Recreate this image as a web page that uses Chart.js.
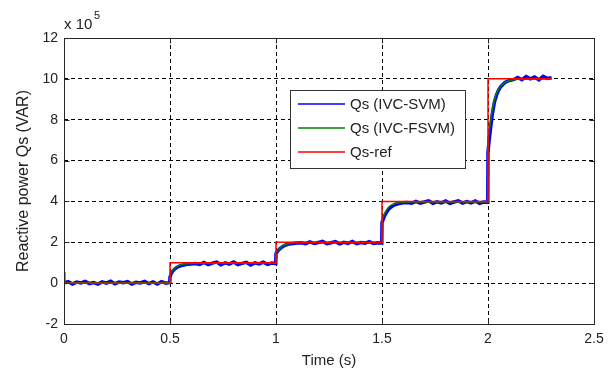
<!DOCTYPE html>
<html>
<head>
<meta charset="utf-8">
<script src="https://cdn.jsdelivr.net/npm/chart.js@4/dist/chart.umd.min.js"></script>
<style>
  body { margin: 0; background: #fff; }
  canvas { display: block; }
</style>
</head>
<body>
<canvas id="qsChart" width="613" height="369"></canvas>
<script>
// values in units of 1e5 VAR
const refT = [0, 0.5, 0.5, 1, 1, 1.5, 1.5, 2, 2, 2.3];
const refQ = [0, 0, 1, 1, 2, 2, 4, 4, 10, 10];

const svmT = [
  0, 0.02, 0.04, 0.06, 0.08, 0.10, 0.12, 0.14, 0.16, 0.18, 0.20, 0.22, 0.24, 0.26, 0.28, 0.30, 0.32, 0.34, 0.36, 0.38, 0.40, 0.42, 0.44, 0.46, 0.48, 0.499,
  0.5, 0.505, 0.51, 0.52, 0.53, 0.54, 0.55, 0.56, 0.58, 0.60, 0.62, 0.64, 0.66, 0.68, 0.70, 0.72, 0.74, 0.76, 0.78, 0.80, 0.82, 0.84, 0.86, 0.88, 0.90, 0.92, 0.94, 0.96, 0.98, 0.999,
  1.0, 1.005, 1.01, 1.02, 1.03, 1.04, 1.05, 1.06, 1.08, 1.10, 1.12, 1.14, 1.16, 1.18, 1.20, 1.22, 1.24, 1.26, 1.28, 1.30, 1.32, 1.34, 1.36, 1.38, 1.40, 1.42, 1.44, 1.46, 1.48, 1.499,
  1.5, 1.505, 1.51, 1.52, 1.53, 1.54, 1.55, 1.56, 1.58, 1.60, 1.62, 1.64, 1.66, 1.68, 1.70, 1.72, 1.74, 1.76, 1.78, 1.80, 1.82, 1.84, 1.86, 1.88, 1.90, 1.92, 1.94, 1.96, 1.98, 1.999,
  2.0, 2.005, 2.01, 2.02, 2.03, 2.04, 2.05, 2.06, 2.08, 2.10, 2.12, 2.14, 2.16, 2.18, 2.20, 2.22, 2.24, 2.26, 2.28, 2.30
];
const svmQ = [
  0.02, 0.07, -0.04, 0.05, 0.01, 0.08, -0.02, 0.03, -0.05, 0.06, 0.0, 0.09, -0.03, 0.05, 0.02, 0.07, -0.04, 0.04, 0.01, 0.08, -0.02, 0.06, -0.04, 0.07, 0.0, 0.03,
  0.3, 0.45, 0.55, 0.67, 0.75, 0.81, 0.85, 0.88, 0.92, 0.94, 0.96, 0.92, 1.01, 0.91, 0.98, 1.03, 0.9, 0.99, 0.93, 1.04, 0.91, 0.97, 1.02, 0.89, 0.99, 0.94, 1.03, 0.92, 0.98, 0.96,
  1.45, 1.52, 1.6, 1.7, 1.78, 1.84, 1.88, 1.91, 1.94, 1.96, 1.98, 1.93, 2.02, 1.94, 1.99, 2.04, 1.93, 1.98, 2.03, 1.92, 2.0, 1.95, 2.04, 1.93, 1.99, 1.96, 2.03, 1.94, 1.98, 1.97,
  2.98, 3.1, 3.25, 3.45, 3.6, 3.7, 3.78, 3.84, 3.9, 3.93, 3.95, 3.91, 4.0, 3.92, 3.97, 4.03, 3.91, 3.98, 3.93, 4.02, 3.91, 3.97, 4.03, 3.92, 3.99, 3.93, 4.02, 3.91, 3.97, 3.96,
  6.4, 6.95, 7.4, 8.25, 8.85, 9.2, 9.45, 9.62, 9.82, 9.92, 9.96, 10.07, 9.96, 10.11, 10.0, 10.09, 9.95, 10.12, 10.02, 10.06
];

const fsvmT = [
  0, 0.004, 0.499,
  0.5, 0.51, 0.52, 0.53, 0.54, 0.56, 0.58, 0.62, 0.999,
  1.0, 1.01, 1.02, 1.03, 1.04, 1.06, 1.08, 1.12, 1.499,
  1.5, 1.51, 1.52, 1.53, 1.54, 1.56, 1.58, 1.62, 1.999,
  2.0, 2.01, 2.02, 2.03, 2.04, 2.05, 2.06, 2.08, 2.10, 2.14, 2.30
];
const fsvmQ = [
  0.55, 0.02, 0.02,
  0.42, 0.6, 0.72, 0.8, 0.86, 0.92, 0.95, 0.97, 0.97,
  1.5, 1.62, 1.73, 1.81, 1.87, 1.93, 1.96, 1.98, 1.98,
  3.1, 3.35, 3.55, 3.7, 3.8, 3.9, 3.95, 3.97, 3.97,
  7.0, 7.8, 8.5, 8.95, 9.3, 9.5, 9.65, 9.83, 9.92, 9.98, 10.0
];

const xTicks = [0, 0.5, 1, 1.5, 2, 2.5];
const yTicks = [-2, 0, 2, 4, 6, 8, 10, 12];

const seriesLabels = ['Qs (IVC-SVM)', 'Qs (IVC-FSVM)', 'Qs-ref'];
const seriesColors = ['#0000ff', '#008000', '#ff0000'];

const toXY = (ts, qs) => ts.map((t, i) => ({x: t, y: qs[i]}));
const font = 'Arial, "Liberation Sans", sans-serif';

// frame, inward ticks, axis titles, exponent and legend box
const matlabLook = {
  id: 'matlabLook',
  afterDraw(chart) {
    const {ctx, chartArea: a, scales: {x, y}} = chart;
    const L = Math.round(a.left) + 0.5, R = Math.round(a.right) + 0.5;
    const T = Math.round(a.top) + 0.5, B = Math.round(a.bottom) + 0.5;
    ctx.save();
    ctx.strokeStyle = '#262626';
    ctx.lineWidth = 1;
    ctx.setLineDash([]);
    ctx.strokeRect(L, T, R - L, B - T);
    ctx.beginPath();
    xTicks.forEach(v => {
      const px = Math.round(x.getPixelForValue(v)) + 0.5;
      ctx.moveTo(px, B); ctx.lineTo(px, B - 5);
      ctx.moveTo(px, T); ctx.lineTo(px, T + 5);
    });
    yTicks.forEach(v => {
      const py = Math.round(y.getPixelForValue(v)) + 0.5;
      ctx.moveTo(L, py); ctx.lineTo(L + 5, py);
      ctx.moveTo(R, py); ctx.lineTo(R - 5, py);
    });
    ctx.stroke();

    ctx.fillStyle = '#222';
    ctx.font = '15px ' + font;
    ctx.textAlign = 'center';
    ctx.textBaseline = 'middle';
    ctx.fillText('Time (s)', (a.left + a.right) / 2, 361);
    ctx.save();
    ctx.translate(24, (a.top + a.bottom) / 2);
    ctx.rotate(-Math.PI / 2);
    ctx.font = '16px ' + font;
    ctx.fillText('Reactive power Qs (VAR)', 0, 0);
    ctx.restore();

    ctx.textAlign = 'left';
    ctx.textBaseline = 'alphabetic';
    ctx.fillText('x 10', a.left, 29);
    ctx.font = '11px ' + font;
    ctx.fillText('5', a.left + 30, 19);

    // legend
    const bx = 290, by = 90, bw = 175, bh = 78;
    ctx.fillStyle = '#fff';
    ctx.fillRect(bx, by, bw, bh);
    ctx.strokeStyle = '#333';
    ctx.strokeRect(bx + 0.5, by + 0.5, bw, bh);
    ctx.font = '15px ' + font;
    ctx.textBaseline = 'middle';
    seriesLabels.forEach((lab, i) => {
      const ly = 104 + i * 24;
      ctx.strokeStyle = seriesColors[i];
      ctx.lineWidth = 1.5;
      ctx.beginPath();
      ctx.moveTo(298, ly); ctx.lineTo(345, ly);
      ctx.stroke();
      ctx.fillStyle = '#222';
      ctx.fillText(lab, 350, ly + 1);
    });
    ctx.restore();
  }
};

new Chart(document.getElementById('qsChart').getContext('2d'), {
  type: 'line',
  data: {
    datasets: [
      {label: seriesLabels[0], data: toXY(svmT, svmQ), borderColor: seriesColors[0], borderWidth: 3.5, order: 3},
      {label: seriesLabels[1], data: toXY(fsvmT, fsvmQ), borderColor: seriesColors[1], borderWidth: 1.5, order: 2},
      {label: seriesLabels[2], data: toXY(refT, refQ), borderColor: seriesColors[2], borderWidth: 1.5, order: 1}
    ]
  },
  options: {
    responsive: false,
    animation: false,
    layout: {padding: {top: 38, right: 19, left: 0, bottom: 0}},
    elements: {point: {radius: 0}, line: {tension: 0}},
    plugins: {legend: {display: false}, tooltip: {enabled: false}},
    scales: {
      x: {
        type: 'linear', min: 0, max: 2.5,
        afterFit: s => { s.height = 45; },
        afterBuildTicks: s => { s.ticks = xTicks.map(v => ({value: v})); },
        ticks: {color: '#222', font: {size: 14, family: font}, padding: 7, maxRotation: 0,
                callback: v => String(v)},
        grid: {color: '#000', drawTicks: false, lineWidth: 1},
        border: {display: false, dash: [4, 3]}
      },
      y: {
        min: -2, max: 12,
        afterFit: s => { s.width = 64; },
        afterBuildTicks: s => { s.ticks = yTicks.map(v => ({value: v})); },
        ticks: {color: '#222', font: {size: 14, family: font}, padding: 6,
                callback: v => String(v)},
        grid: {color: '#000', drawTicks: false, lineWidth: 1},
        border: {display: false, dash: [4, 3]}
      }
    }
  },
  plugins: [matlabLook]
});
</script>
</body>
</html>
